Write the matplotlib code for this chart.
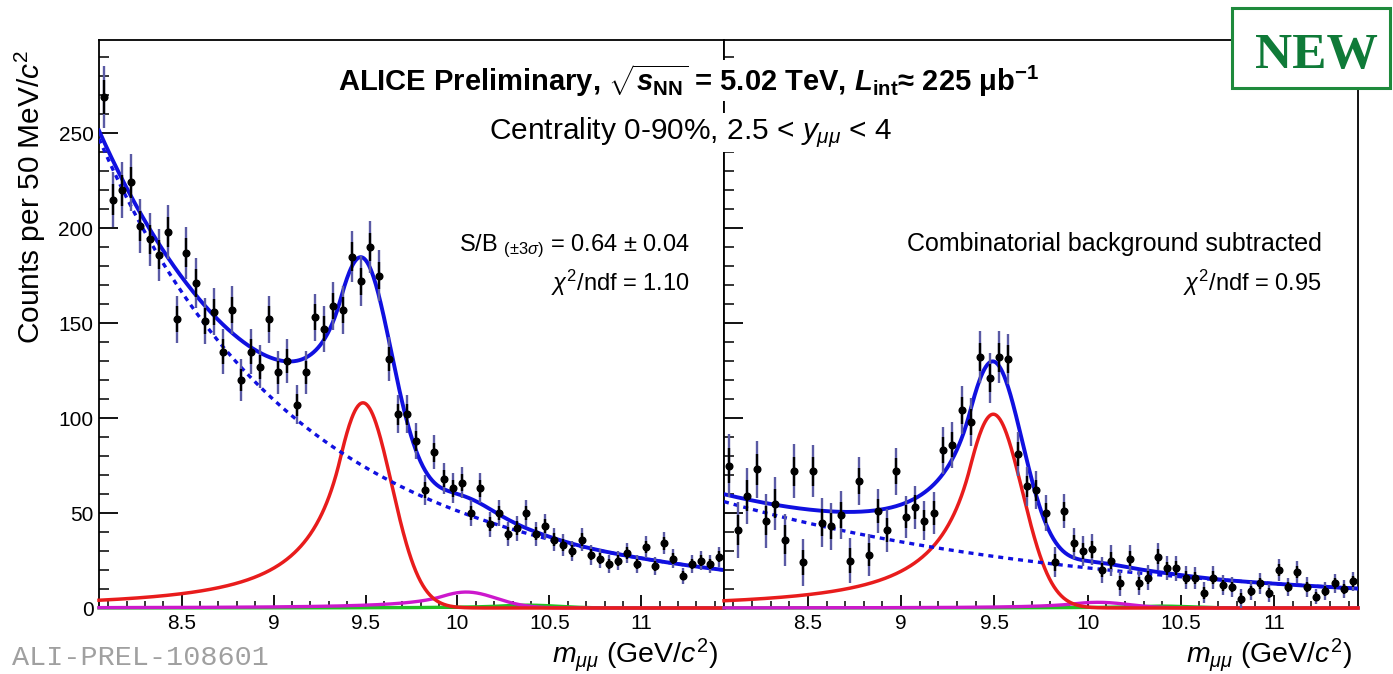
import numpy as np
import matplotlib
matplotlib.use("Agg")
import matplotlib.pyplot as plt
from matplotlib.patches import Rectangle

plt.rcParams['font.family'] = ['Liberation Sans', 'DejaVu Sans']
plt.rcParams['mathtext.fontset'] = 'custom'
plt.rcParams['mathtext.rm'] = 'Liberation Sans'
plt.rcParams['mathtext.it'] = 'Liberation Sans:italic'
plt.rcParams['mathtext.bf'] = 'Liberation Sans:bold'
plt.rcParams['mathtext.bfit'] = 'Liberation Sans:bold:italic'
plt.rcParams['mathtext.sf'] = 'Liberation Sans'

# ---------------- data ----------------
mass_min, mass_max, bin_width = 8.05, 11.45, 0.05

counts_raw = [269, 215, 220, 224, 201, 194, 186, 198, 152, 187,
              171, 151, 156, 135, 157, 120, 135, 127, 152, 124,
              130, 107, 124, 153, 147, 159, 157, 185, 172, 190,
              175, 131, 102, 102, 88, 62, 82, 68, 63, 66,
              50, 63, 44, 50, 39, 42, 50, 39, 43, 36,
              33, 30, 36, 28, 26, 23, 25, 29, 23, 32,
              22, 34, 26, 17, 23, 25, 23, 27]

counts_sub = [75, 41, 59, 73, 46, 55, 36, 72, 24, 72,
              45, 43, 49, 25, 67, 28, 51, 41, 72, 48,
              53, 46, 50, 83, 86, 104, 98, 132, 121, 132,
              131, 81, 64, 62, 50, 24, 51, 34, 30, 31,
              20, 25, 13, 26, 13, 16, 27, 21, 21, 16,
              16, 8, 16, 12, 11, 5, 9, 13, 8, 20,
              11, 19, 11, 6, 9, 13, 10, 14]

# fit parameters
# background: A * exp(-b*t + c*t^2), t = m - mass_min
bkg_raw = [247.0, 0.900, 0.0472]
bkg_sub = [56.0, 0.50, 0.0]
# Crystal Ball: N, mean, sigma, alpha, n
ups1S_raw = [108.0, 9.486, 0.155, 0.8, 2.0]
ups2S_raw = [8.4, 10.048, 0.164, 0.8, 2.0]
ups3S_raw = [1.5, 10.38, 0.170, 0.8, 2.0]
ups1S_sub = [102.0, 9.494, 0.155, 0.8, 2.0]
ups2S_sub = [3.0, 10.056, 0.164, 0.8, 2.0]
ups3S_sub = [1.0, 10.39, 0.170, 0.8, 2.0]

x_ticks = [8.5, 9, 9.5, 10, 10.5, 11]
x_tick_labels = ['8.5', '9', '9.5', '10', '10.5', '11']
y_ticks = [0, 50, 100, 150, 200, 250]


def crystal_ball(m, N, mu, sig, alpha, n):
    t = (m - mu) / sig
    A = (n / alpha) ** n * np.exp(-alpha ** 2 / 2)
    B = n / alpha - alpha
    out = np.where(t > -alpha, np.exp(-0.5 * t ** 2),
                   A * np.abs(B - t) ** (-n))
    return N * out


def background(m, A, b, c):
    t = m - mass_min
    return A * np.exp(-b * t + c * t ** 2)


W, H = 1393, 674
fig = plt.figure(figsize=(W / 100, H / 100), dpi=100)


def fx(px):
    return px / W


def fy(py):
    return 1 - py / H


axL = fig.add_axes([fx(99), fy(608), fx(724) - fx(99), fy(40) - fy(608)])
axR = fig.add_axes([fx(724), fy(608), fx(1358) - fx(724), fy(40) - fy(608)])

centers = mass_min + bin_width / 2 + bin_width * np.arange(len(counts_raw))
stat_err = np.sqrt(np.array(counts_raw, dtype=float))
mm = np.linspace(mass_min, mass_max, 800)

BLUE = '#1010e0'
RED = '#e81c1c'
MAG = '#cc18cc'
GRN = '#22c022'

for ax, cnts, bk, s1, s2, s3 in [
        (axL, counts_raw, bkg_raw, ups1S_raw, ups2S_raw, ups3S_raw),
        (axR, counts_sub, bkg_sub, ups1S_sub, ups2S_sub, ups3S_sub)]:
    b = background(mm, *bk)
    c1 = crystal_ball(mm, *s1)
    c2 = crystal_ball(mm, *s2)
    c3 = crystal_ball(mm, *s3)
    tot = b + c1 + c2 + c3
    ax.plot(mm, c3, color=GRN, lw=2.4, clip_on=False, zorder=3)
    ax.plot(mm, c2, color=MAG, lw=2.4, clip_on=False, zorder=3.1)
    ax.plot(mm, c1, color=RED, lw=2.5, clip_on=False, zorder=3.2)
    ax.plot(mm, b, color=BLUE, lw=2.4, ls=(0, (1.5, 1.5)), zorder=3.3)
    ax.plot(mm, tot, color=BLUE, lw=2.8, zorder=3.4)
    cn = np.array(cnts, dtype=float)
    ax.errorbar(centers, cn, yerr=stat_err, fmt='none', ecolor='#5a5aa4',
                elinewidth=1.7, capsize=0, zorder=4)
    ax.errorbar(centers, cn, yerr=0.55 * stat_err, fmt='o', color='black',
                ms=4.8, ecolor='black', elinewidth=1.7, capsize=0, zorder=5)

    ax.set_xlim(mass_min, mass_max)
    ax.set_ylim(0, 299)
    ax.set_xticks(x_ticks)
    ax.set_xticklabels(x_tick_labels)
    ax.set_xticks(np.arange(8.1, 11.45, 0.1), minor=True)
    ax.set_yticks(y_ticks)
    ax.set_yticks(np.arange(0, 299, 10), minor=True)
    ax.tick_params(axis='x', which='major', direction='in', length=9.5,
                   width=1.3, labelsize=15, pad=4, top=False)
    ax.tick_params(axis='x', which='minor', direction='in', length=4.8,
                   width=1.1, top=False)
    ax.tick_params(axis='y', which='major', direction='in', length=14,
                   width=1.3, labelsize=15, pad=4, right=False)
    ax.tick_params(axis='y', which='minor', direction='in', length=7,
                   width=1.1, right=False)
    for sp in ax.spines.values():
        sp.set_linewidth(1.3)

axR.set_yticklabels([])

# ---------------- texts ----------------
white_box = dict(facecolor='white', edgecolor='none', pad=1.5)
fig.text(fx(689), fy(91),
         r"ALICE Preliminary, $\sqrt{\mathbfit{s}_{\mathbf{NN}}}$ = 5.02 TeV, "
         r"$\mathbfit{L}_{\mathbf{int}}$≈ 225 μb$^{\mathbf{-1}}$",
         ha='center', va='baseline', fontsize=21, fontweight='bold',
         bbox=white_box)
fig.text(fx(691), fy(139),
         r"Centrality 0-90%, 2.5 < $y_{\mu\mu}$ < 4",
         ha='center', va='baseline', fontsize=21.5, bbox=white_box)

fig.text(fx(690), fy(251), r"S/B $_{(\pm3\sigma)}$ = 0.64 $\pm$ 0.04",
         ha='right', va='baseline', fontsize=17)
fig.text(fx(690), fy(291), r"$\chi^{2}$/ndf = 1.10",
         ha='right', va='baseline', fontsize=17)
fig.text(fx(1322), fy(251), "Combinatorial background subtracted",
         ha='right', va='baseline', fontsize=18)
fig.text(fx(1322), fy(291), r"$\chi^{2}$/ndf = 0.95",
         ha='right', va='baseline', fontsize=17)

fig.text(fx(30), fy(50), r"Counts per 50 MeV/$c^{2}$", rotation=90,
         ha='center', va='top', fontsize=21.5)
fig.text(fx(718), fy(663), r"$m_{\mu\mu}$ (GeV/$c^{2}$)",
         ha='right', va='baseline', fontsize=20.5)
fig.text(fx(1352), fy(663), r"$m_{\mu\mu}$ (GeV/$c^{2}$)",
         ha='right', va='baseline', fontsize=20.5)

fig.text(fx(12), fy(665), "ALI-PREL-108601", ha='left', va='baseline',
         fontsize=20.5, color='#a0a0a0', family='Liberation Mono')

fig.patches.append(Rectangle((fx(1232), fy(88)), fx(1390) - fx(1232),
                             fy(8) - fy(88), transform=fig.transFigure,
                             facecolor='white', edgecolor='#1e8a3c',
                             lw=2.2, zorder=10))
fig.text(fx(1316), fy(68), "NEW", ha='center', va='baseline', fontsize=37,
         fontweight='bold', family='Liberation Serif', color='#0f7a38',
         zorder=11)

fig.savefig("out.png", dpi=100)
